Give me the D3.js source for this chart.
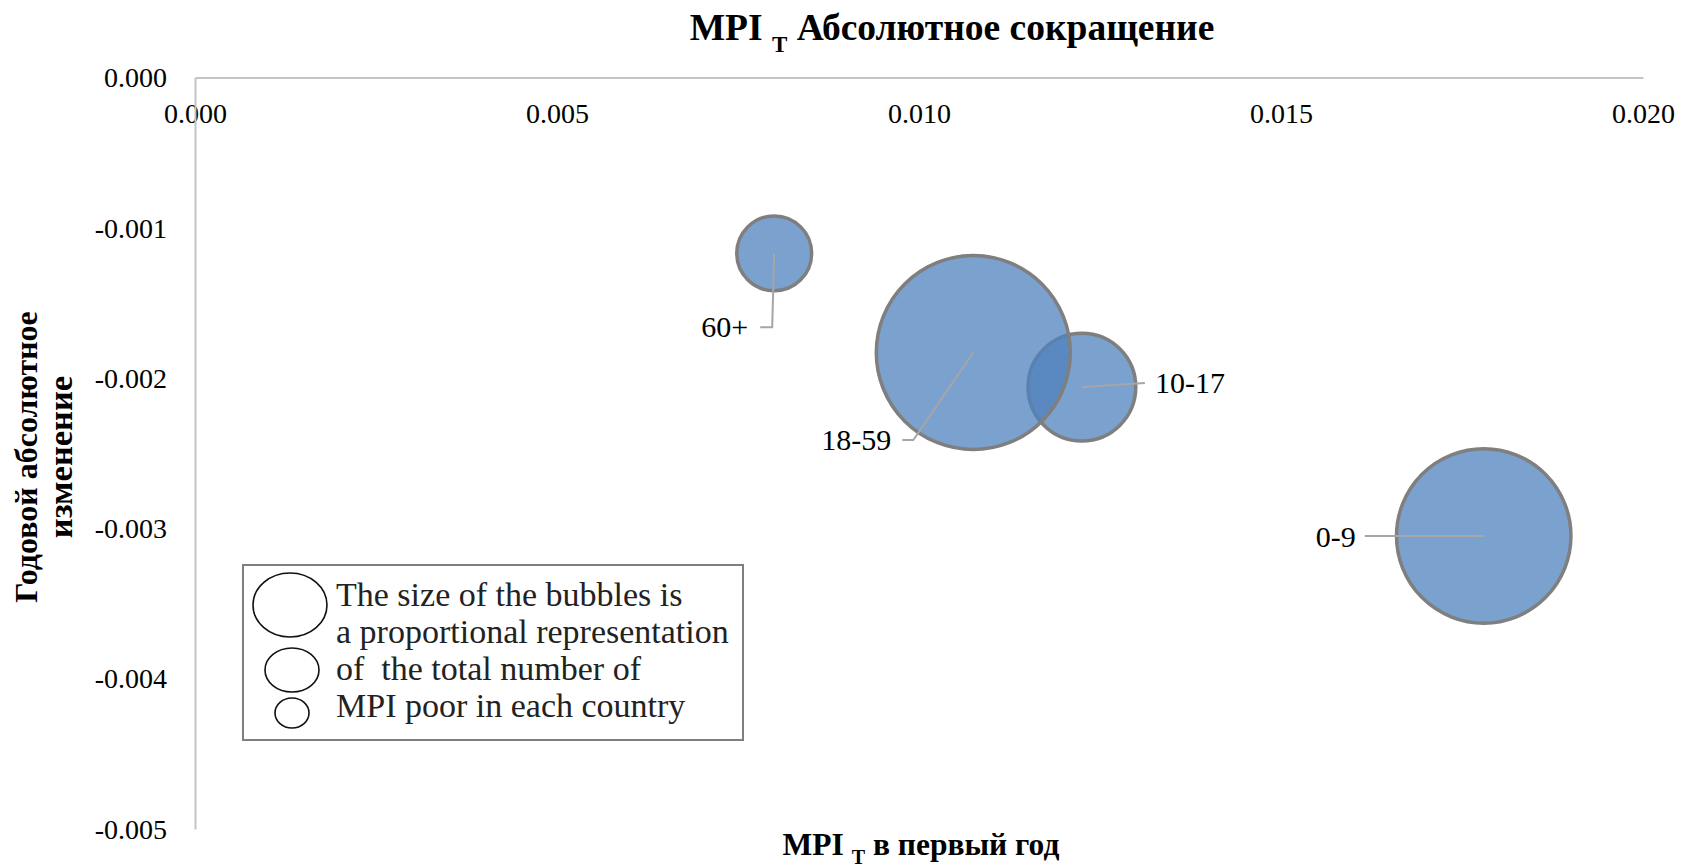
<!doctype html>
<html>
<head>
	<meta charset="UTF-8">
	<title>MPI T bubble chart</title>
	<script src="https://d3js.org/d3.v7.min.js"></script>
</head>
<body style="margin:0; background:#fff;">
	<script>

		// age groups and their values
		var groups = ["0-9", "10-17", "18-59", "60+"];
		var mpiFirstYear = [0.0178, 0.01225, 0.01075, 0.0080];
		var annualChange = [-0.00305, -0.00206, -0.00183, -0.00117];
		// number of MPI poor (relative, drives bubble area)
		var bubbleSize = [7.6, 2.9, 9.4, 1.4];

		var xTicks = [0, 0.005, 0.010, 0.015, 0.020];
		var yTicks = [0, -0.001, -0.002, -0.003, -0.004, -0.005];

		var legendLines = [
			"The size of the bubbles is",
			"a proportional representation",
			"of  the total number of",
			"MPI poor in each country"
		];

		var width = 1692,
			height = 868;

		var serif = "Liberation Serif";

		// plot area
		var plot = {left: 195, right: 1643, top: 77.5, bottom: 829};

		// label placement relative to bubble centre (text point + leader line points)
		var labelLayout = {
			"0-9":   {dx: -128, dy: 11,   anchor: "end",   leader: [[-119, 0], [0, 0]]},
			"10-17": {dx: 73,   dy: 6,    anchor: "start", leader: [[63, -4], [0, 0]]},
			"18-59": {dx: -82,  dy: 97.5, anchor: "end",   leader: [[-71, 87.5], [-60, 87.5], [0, 0]]},
			"60+":   {dx: -26,  dy: 84,   anchor: "end",   leader: [[-14, 74], [-2, 74], [0, 0]]}
		};

		var data = groups.map(function(g, i) {
			return {group: g, x: mpiFirstYear[i], y: annualChange[i], size: bubbleSize[i]};
		});

		var svg = d3.select("body")
					.append("svg")
						.attr("width", width)
						.attr("height", height)
						.attr("font-family", serif);

		var x = d3.scaleLinear()
					.domain([0, 0.02])
					.range([plot.left, plot.right]);

		var y = d3.scaleLinear()
					.domain([0, -0.005])
					.range([plot.top, plot.bottom]);

		var r = d3.scaleSqrt()
					.domain([0, d3.max(bubbleSize)])
					.range([0, 97]);

		// plain hyphen for negatives, like the original
		var fmt = d3.formatLocale({decimal: ".", thousands: ",", grouping: [3], currency: ["", ""], minus: "-"}).format(".3f");

		//X axis, labels sit below the line at the top
		var xAxis = svg.append("g")
						.attr("transform", "translate(0," + plot.top + ")")
						.call(d3.axisBottom(x).tickValues(xTicks).tickFormat(fmt).tickSize(0).tickSizeOuter(0).tickPadding(25.5));

		//Y axis
		var yAxis = svg.append("g")
						.attr("transform", "translate(" + plot.left + ",0)")
						.call(d3.axisLeft(y).tickValues(yTicks).tickFormat(fmt).tickSize(0).tickSizeOuter(0).tickPadding(28));

		svg.selectAll(".domain")
			.attr("stroke", "#c4c4c4")
			.attr("stroke-width", 2);

		xAxis.attr("font-family", serif);
		yAxis.attr("font-family", serif);

		svg.selectAll(".tick text")
			.attr("font-size", 28)
			.attr("fill", "#000");

		yAxis.selectAll(".tick text").attr("dy", "0.33em");

		//Bubbles
		svg.append("g")
			.selectAll("circle")
			.data(data)
			.enter()
			.append("circle")
				.attr("cx", function(d) { return x(d.x); })
				.attr("cy", function(d) { return y(d.y); })
				.attr("r", function(d) { return r(d.size); })
				.attr("fill", "#4f81bd")
				.attr("fill-opacity", 0.75)
				.attr("stroke", "#7f7f7f")
				.attr("stroke-width", 3.5);

		//Leader lines
		var line = d3.line();

		svg.append("g")
			.selectAll("path")
			.data(data)
			.enter()
			.append("path")
				.attr("d", function(d) {
					var cx = x(d.x), cy = y(d.y);
					return line(labelLayout[d.group].leader.map(function(p) { return [cx + p[0], cy + p[1]]; }));
				})
				.attr("fill", "none")
				.attr("stroke", "#a6a6a6")
				.attr("stroke-width", 2);

		//Data labels
		svg.append("g")
			.selectAll("text")
			.data(data)
			.enter()
			.append("text")
				.attr("x", function(d) { return x(d.x) + labelLayout[d.group].dx; })
				.attr("y", function(d) { return y(d.y) + labelLayout[d.group].dy; })
				.attr("text-anchor", function(d) { return labelLayout[d.group].anchor; })
				.attr("font-size", 30)
				.attr("fill", "#000")
				.text(function(d) { return d.group; });

		//Chart title
		var title = svg.append("text")
						.attr("x", 952)
						.attr("y", 40)
						.attr("text-anchor", "middle")
						.attr("font-size", 37.5)
						.attr("font-weight", "bold");
		title.append("tspan").text("MPI ");
		title.append("tspan").attr("font-size", 23).attr("dy", 12).text("T");
		title.append("tspan").attr("dy", -12).text(" Абсолютное сокращение");

		//X axis title
		var xTitle = svg.append("text")
						.attr("x", 921)
						.attr("y", 855)
						.attr("text-anchor", "middle")
						.attr("font-size", 31.5)
						.attr("font-weight", "bold");
		xTitle.append("tspan").text("MPI ");
		xTitle.append("tspan").attr("font-size", 20).attr("dy", 9).text("T");
		xTitle.append("tspan").attr("dy", -9).text(" в первый год");

		//Y axis title, two lines
		var yTitle = svg.append("g")
						.attr("transform", "translate(0,457) rotate(-90)");
		yTitle.append("text")
			.attr("x", 0)
			.attr("y", 37)
			.attr("text-anchor", "middle")
			.attr("font-size", 32)
			.attr("font-weight", "bold")
			.text("Годовой абсолютное");
		yTitle.append("text")
			.attr("x", 0)
			.attr("y", 72)
			.attr("text-anchor", "middle")
			.attr("font-size", 34.5)
			.attr("font-weight", "bold")
			.text("изменение");

		//Legend box
		var legend = svg.append("g");

		legend.append("rect")
			.attr("x", 243)
			.attr("y", 565)
			.attr("width", 500)
			.attr("height", 175)
			.attr("fill", "#fff")
			.attr("stroke", "#7f7f7f")
			.attr("stroke-width", 2);

		var legendEllipses = [
			{cx: 290, cy: 605, rx: 37, ry: 32},
			{cx: 292, cy: 670, rx: 27, ry: 22},
			{cx: 292, cy: 713, rx: 17, ry: 15}
		];

		legend.selectAll("ellipse")
			.data(legendEllipses)
			.enter()
			.append("ellipse")
				.attr("cx", function(d) { return d.cx; })
				.attr("cy", function(d) { return d.cy; })
				.attr("rx", function(d) { return d.rx; })
				.attr("ry", function(d) { return d.ry; })
				.attr("fill", "none")
				.attr("stroke", "#111")
				.attr("stroke-width", 1.6);

		legend.selectAll("text.legend")
			.data(legendLines)
			.enter()
			.append("text")
				.attr("class", "legend")
				.attr("x", 336)
				.attr("y", function(d, i) { return 606 + i * 37; })
				.attr("font-size", 34)
				.attr("fill", "#222")
				.attr("xml:space", "preserve")
				.style("white-space", "pre")
				.text(function(d) { return d; });

	</script>
</body>
</html>
